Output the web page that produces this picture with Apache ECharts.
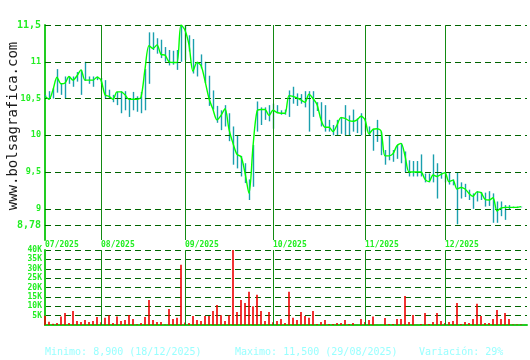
<!DOCTYPE html>
<html>
<head>
<meta charset="utf-8">
<script src="https://cdn.jsdelivr.net/npm/echarts@6/dist/echarts.min.js"></script>
<style>
html,body{margin:0;padding:0;background:#fff;}
#chart{width:530px;height:360px;}
</style>
</head>
<body>
<div id="chart"></div>
<script>
// ---- data (one value per trading day, Jul 2025 - Dec 2025) ----
const closes = [10.53,10.49,10.62,10.79,10.70,10.71,10.80,10.75,10.81,10.89,
10.75,10.75,10.75,10.79,10.75,10.55,10.53,10.49,10.59,10.59,
10.55,10.49,10.49,10.49,10.52,10.90,11.22,11.18,11.23,11.10,
11.09,11.00,10.99,10.99,11.50,11.43,11.23,10.87,10.99,10.95,
10.74,10.50,10.35,10.21,10.27,10.36,10.08,9.89,9.74,9.71,
9.49,9.21,9.85,10.33,10.35,10.35,10.27,10.34,10.31,10.30,
10.30,10.54,10.53,10.51,10.48,10.45,10.56,10.50,10.42,10.21,
10.11,10.11,10.05,10.14,10.24,10.23,10.20,10.19,10.21,10.26,
10.21,10.02,10.08,10.09,10.06,9.72,9.72,9.75,9.86,9.89,
9.72,9.50,9.50,9.50,9.50,9.40,9.37,9.46,9.44,9.47,
9.49,9.37,9.39,9.27,9.29,9.27,9.21,9.17,9.23,9.22,
9.13,9.12,9.15,8.97,9.01,9.02,9.02,9.02,9.02,9.03];

const highs = [10.55,10.60,10.64,10.90,10.70,10.80,10.80,10.80,10.86,10.89,
11.00,10.80,10.80,10.80,10.78,10.75,10.62,10.55,10.59,10.60,
10.60,10.50,10.59,10.53,10.59,10.90,11.40,11.40,11.32,11.30,
11.20,11.16,11.15,11.16,11.50,11.50,11.36,11.31,11.00,11.10,
11.00,10.81,10.61,10.40,10.34,10.41,10.30,10.12,10.00,9.72,
9.62,9.40,9.87,10.46,10.38,10.38,10.41,10.43,10.41,10.34,
10.35,10.61,10.66,10.57,10.56,10.60,10.60,10.60,10.45,10.45,
10.41,10.21,10.14,10.21,10.25,10.41,10.27,10.35,10.23,10.30,
10.23,10.12,10.09,10.21,10.05,9.80,10.00,9.80,9.87,9.89,
9.78,9.66,9.65,9.65,9.74,9.48,9.48,9.74,9.62,9.50,
9.50,9.50,9.40,9.50,9.36,9.34,9.26,9.21,9.24,9.23,
9.22,9.24,9.21,9.10,9.10,9.05,9.05,9.03,9.03,9.03];

const lows = [10.50,10.49,10.50,10.58,10.55,10.50,10.70,10.66,10.73,10.55,
10.74,10.70,10.66,10.75,10.70,10.50,10.50,10.45,10.41,10.30,
10.34,10.25,10.34,10.32,10.30,10.34,10.70,11.16,11.11,11.05,
11.00,10.95,10.96,10.89,11.00,11.02,11.14,10.84,10.80,10.91,
10.71,10.40,10.35,10.17,10.07,10.12,9.92,9.60,9.55,9.44,
9.35,9.12,9.30,10.05,10.14,10.21,10.19,10.09,10.30,10.28,
10.28,10.25,10.43,10.40,10.43,10.38,10.05,10.25,10.33,10.12,
10.05,10.05,10.00,9.99,10.02,10.00,10.00,10.05,10.03,10.00,
10.05,10.00,9.79,9.91,9.73,9.60,9.66,9.64,9.68,9.62,
9.50,9.44,9.44,9.44,9.44,9.36,9.36,9.36,9.14,9.41,
9.36,9.33,9.32,8.79,9.14,9.16,9.12,9.00,9.10,9.12,
9.03,9.04,8.81,8.81,8.90,8.85,8.99,9.01,9.01,9.02];

// volume in thousands of shares
const volumesK = [5.0,1.8,0.7,1.1,4.5,6.4,1.1,7.5,2.1,1.6,
2.7,1.6,2.1,4.3,1.5,3.9,5.2,1.1,4.5,2.1,
2.7,5.4,3.2,0.4,1.1,4.3,13.4,2.7,1.6,1.6,
0.3,8.6,3.2,3.9,32.1,1.4,1.1,4.8,2.7,2.1,
4.8,4.8,7.5,10.7,5.2,2.1,5.2,40.0,7.0,13.4,
11.8,17.7,10.0,16.1,7.5,2.1,7.0,1.5,2.1,3.2,
1.1,17.7,3.9,2.7,7.0,4.8,3.9,7.5,0.5,1.6,
2.7,0.5,0.5,1.1,1.1,2.7,0.5,1.1,0.2,3.2,
1.6,2.7,4.5,0.2,0.2,3.75,0.5,0.5,3.2,3.2,
15.5,1.6,5.4,0.2,0.5,6.4,0.5,1.6,6.4,2.1,
1.1,1.6,2.1,11.8,0.5,1.6,1.1,3.2,11.3,4.8,
1.1,1.1,3.2,8.0,3.2,6.4,3.2,0.3,0.3,0.3];

const monthLabels = ['07/2025','08/2025','09/2025','10/2025','11/2025','12/2025'];
const monthStarts = [0, 14, 35, 57, 80, 100];   // index of first trading day
const priceTicks = [8.78, 9, 9.5, 10, 10.5, 11, 11.5];
const volumeTicksK = [5, 10, 15, 20, 25, 30, 35, 40];
const statsTexts = ['Minimo: 8,900 (18/12/2025)', 'Maximo: 11,500 (29/08/2025)', 'Variación: 29%'];
const watermark = 'www.bolsagrafica.com';

// ---- styling ----
const FONT = '"DejaVu Sans Mono", "Liberation Mono", monospace';
const LABEL_GREEN = '#22ee22';
const AXIS_GREEN = '#22cc22';
const GRID_GREEN = '#006400';
const MONTH_GREEN = '#138a13';
const PRICE_LO = priceTicks[0], PRICE_HI = priceTicks[priceTicks.length - 1];
const X_MAX = closes.length + 0.5;

const chart = echarts.init(document.getElementById('chart'), null, {renderer: 'canvas'});

const fmtPrice = v => String(+v.toFixed(2)).replace('.', ',');

chart.setOption({
  animation: false,
  backgroundColor: '#ffffff',
  grid: [
    {left: 45, right: 3, top: 25, height: 215},
    {left: 45, right: 3, top: 250, height: 75}
  ],
  xAxis: [
    {
      gridIndex: 0, type: 'value', min: 0, max: X_MAX,
      axisLine: {show: false}, axisTick: {show: false}, splitLine: {show: false},
      axisLabel: {
        show: true, customValues: monthStarts, align: 'left', margin: 1,
        color: LABEL_GREEN, fontFamily: FONT, fontSize: 8, fontWeight: 'bold',
        formatter: v => monthLabels[monthStarts.indexOf(Math.round(v))] || ''
      }
    },
    {
      gridIndex: 1, type: 'value', min: 0, max: X_MAX,
      axisLine: {show: true, onZero: false, lineStyle: {color: AXIS_GREEN, width: 2}},
      axisTick: {show: false}, axisLabel: {show: false}, splitLine: {show: false}
    }
  ],
  yAxis: [
    {
      gridIndex: 0, type: 'value',
      min: PRICE_LO - (PRICE_HI - PRICE_LO) * 15 / 200, max: PRICE_HI,
      axisLine: {show: true, lineStyle: {color: AXIS_GREEN, width: 2}},
      axisTick: {show: false}, splitLine: {show: false},
      axisLabel: {
        show: true, customValues: priceTicks, margin: 4,
        color: LABEL_GREEN, fontFamily: FONT, fontSize: 8.5, fontWeight: 'bold',
        formatter: v => (Math.abs(v - PRICE_LO) < 1e-6 || Math.abs(v - PRICE_HI) < 1e-6)
          ? '{big|' + fmtPrice(v) + '}' : fmtPrice(v),
        rich: {big: {fontSize: 10, fontFamily: FONT, color: LABEL_GREEN, fontWeight: 'bold'}}
      }
    },
    {
      gridIndex: 1, type: 'value', min: 0, max: 40, interval: 5,
      offset: 2,
      axisLine: {show: true, lineStyle: {color: AXIS_GREEN, width: 2}},
      axisTick: {show: false},
      splitLine: {show: true, lineStyle: {color: GRID_GREEN, type: [6, 4], width: 1}},
      axisLabel: {
        margin: 1, color: LABEL_GREEN, fontFamily: FONT, fontSize: 8, fontWeight: 'bold',
        formatter: v => volumeTicksK.indexOf(v) >= 0 ? v + 'K' : ''
      }
    }
  ],
  graphic: [
    {
      type: 'text', x: 13, y: 126, rotation: Math.PI / 2,
      style: {text: watermark, font: '14px ' + FONT, fill: '#1a1a1a',
        textAlign: 'center', textVerticalAlign: 'middle'}
    },
    {type: 'text', x: 45, y: 352, style: {text: statsTexts[0], font: '10px ' + FONT, fill: '#99ffff', textVerticalAlign: 'middle'}},
    {type: 'text', x: 235, y: 352, style: {text: statsTexts[1], font: '10px ' + FONT, fill: '#99ffff', textVerticalAlign: 'middle'}},
    {type: 'text', x: 419, y: 352, style: {text: statsTexts[2], font: '10px ' + FONT, fill: '#99ffff', textVerticalAlign: 'middle'}}
  ],
  series: [
    {
      name: 'hilo', type: 'custom', xAxisIndex: 0, yAxisIndex: 0, z: 2,
      data: highs.map((h, i) => [i, lows[i], h]),
      encode: {x: 0, y: [1, 2]},
      renderItem: function (params, api) {
        const a = api.coord([api.value(0), api.value(1)]);
        const b = api.coord([api.value(0), api.value(2)]);
        const x = Math.round(a[0]) + 0.5;
        return {type: 'line', shape: {x1: x, y1: a[1], x2: x, y2: b[1]},
          style: {stroke: '#1a9fae', lineWidth: 1.4}};
      },
      markLine: {
        silent: true, symbol: 'none', animation: false, label: {show: false},
        data: priceTicks.map(v => ({yAxis: v, lineStyle: {color: GRID_GREEN, type: [6, 4], width: 1}}))
          .concat(monthStarts.slice(1).map(v => ({xAxis: v, lineStyle: {color: MONTH_GREEN, type: 'solid', width: 1}})))
      }
    },
    {
      name: 'close', type: 'line', xAxisIndex: 0, yAxisIndex: 0, z: 5,
      data: closes.map((v, i) => [i, v]),
      showSymbol: false, smooth: 0.3,
      lineStyle: {color: '#00ff00', width: 1.4}
    },
    {
      name: 'volume', type: 'bar', xAxisIndex: 1, yAxisIndex: 1, z: 3,
      data: volumesK.map((v, i) => [i, v]),
      barWidth: 1.6, itemStyle: {color: '#ee0000'},
      markLine: {
        silent: true, symbol: 'none', animation: false, label: {show: false},
        lineStyle: {color: MONTH_GREEN, type: 'solid', width: 1},
        data: monthStarts.slice(1).map(v => ({xAxis: v}))
      }
    }
  ]
});
</script>
</body>
</html>
